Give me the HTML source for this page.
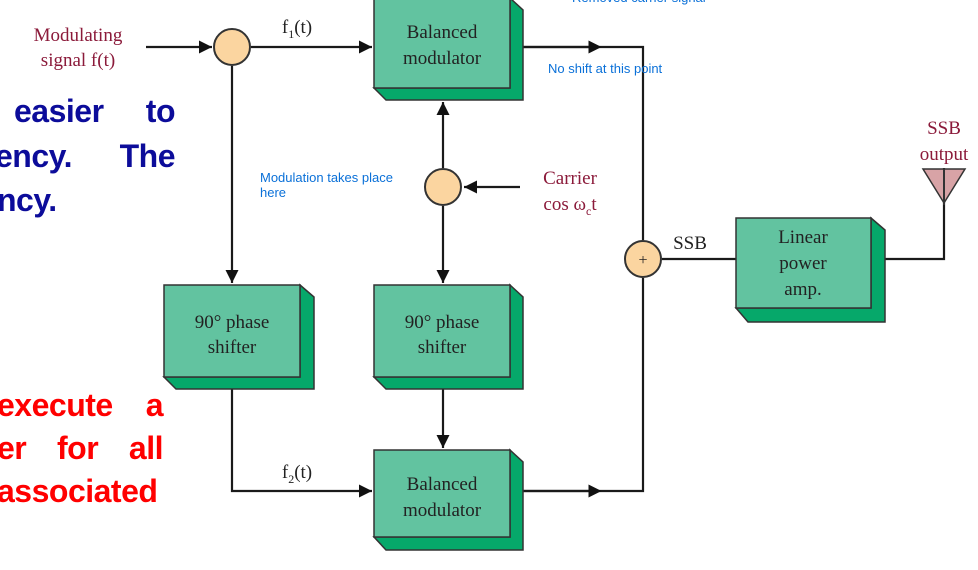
<!DOCTYPE html>
<html><head><style>
body{margin:0;width:978px;height:570px;background:#fff;position:relative;overflow:hidden}
.t{position:absolute;font-family:"Liberation Sans",sans-serif;font-weight:bold;font-size:32px;text-align:justify;text-align-last:justify;white-space:nowrap;letter-spacing:-0.5px}
.b{color:#0c0c9a}.r{color:#ff0000}
</style></head><body>
<svg width="978" height="570" style="position:absolute;left:0;top:0" font-family="Liberation Serif,serif">
<defs><marker id="a" viewBox="0 0 10 10" refX="10" refY="5" markerWidth="14" markerHeight="13" markerUnits="userSpaceOnUse" orient="auto"><path d="M0,0L10,5L0,10z" fill="#111"/></marker>
<marker id="m" viewBox="0 0 10 10" refX="5" refY="5" markerWidth="16" markerHeight="13" markerUnits="userSpaceOnUse" orient="auto"><path d="M0,0L10,5L0,10z" fill="#111"/></marker></defs>
<g stroke="#1a1a1a" stroke-width="2.2" fill="none">
<line x1="146" y1="47" x2="212" y2="47" marker-end="url(#a)"/>
<line x1="251" y1="47" x2="372" y2="47" marker-end="url(#a)"/>
<line x1="232" y1="66" x2="232" y2="283" marker-end="url(#a)"/>
<line x1="443" y1="168" x2="443" y2="102" marker-end="url(#a)"/>
<line x1="520" y1="187" x2="464" y2="187" marker-end="url(#a)"/>
<line x1="443" y1="206" x2="443" y2="283" marker-end="url(#a)"/>
<line x1="443" y1="377" x2="443" y2="448" marker-end="url(#a)"/>
<polyline points="232,377 232,491 372,491" marker-end="url(#a)"/>
<polyline points="512,47 643,47 643,240"/>
<line x1="512" y1="47" x2="595" y2="47" marker-end="url(#m)"/>
<polyline points="512,491 643,491 643,278"/>
<line x1="512" y1="491" x2="595" y2="491" marker-end="url(#m)"/>
<line x1="662" y1="259" x2="736" y2="259"/>
<polyline points="872,259 944,259 944,168"/>
</g>
<g stroke="#333" stroke-width="1.5">
<polygon points="510,-2 523,10 523,100 386,100 374,88 510,88" fill="#06a86a"/>
<rect x="374" y="-2" width="136" height="90" fill="#62c3a0"/>
<polygon points="300,285 314,297 314,389 176,389 164,377 300,377" fill="#06a86a"/>
<rect x="164" y="285" width="136" height="92" fill="#62c3a0"/>
<polygon points="510,285 523,297 523,389 386,389 374,377 510,377" fill="#06a86a"/>
<rect x="374" y="285" width="136" height="92" fill="#62c3a0"/>
<polygon points="510,450 523,462 523,550 386,550 374,537 510,537" fill="#06a86a"/>
<rect x="374" y="450" width="136" height="87" fill="#62c3a0"/>
<polygon points="871,218 885,230 885,322 748,322 736,308 871,308" fill="#06a86a"/>
<rect x="736" y="218" width="135" height="90" fill="#62c3a0"/>
</g>
<g fill="#fbd5a0" stroke="#333" stroke-width="2">
<circle cx="232" cy="47" r="18"/><circle cx="443" cy="187" r="18"/><circle cx="643" cy="259" r="18"/>
</g>
<polygon points="923,169 965,169 944,203" fill="#d8a3a6" stroke="#333" stroke-width="1.5"/>
<line x1="944" y1="169" x2="944" y2="205" stroke="#333" stroke-width="2"/>
<g font-size="19" fill="#222" text-anchor="middle">
<text x="442" y="38">Balanced</text><text x="442" y="64">modulator</text>
<text x="232" y="328">90° phase</text><text x="232" y="353">shifter</text>
<text x="442" y="328">90° phase</text><text x="442" y="353">shifter</text>
<text x="442" y="490">Balanced</text><text x="442" y="516">modulator</text>
<text x="803" y="243">Linear</text><text x="803" y="269">power</text><text x="803" y="295">amp.</text>
<text x="297" y="33">f<tspan font-size="12" dy="5">1</tspan><tspan dy="-5">(t)</tspan></text>
<text x="297" y="478">f<tspan font-size="12" dy="5">2</tspan><tspan dy="-5">(t)</tspan></text>
<text x="690" y="249">SSB</text>
<text x="643" y="265" font-size="16">+</text>
</g>
<g font-size="19" fill="#8b1a3a" text-anchor="middle">
<text x="78" y="41">Modulating</text><text x="78" y="66">signal f(t)</text>
<text x="570" y="184">Carrier</text><text x="570" y="210">cos ω<tspan font-size="12" dy="5">c</tspan><tspan dy="-5">t</tspan></text>
<text x="944" y="134">SSB</text><text x="944" y="160">output</text>
</g>
<g font-family="Liberation Sans,sans-serif" font-size="13" fill="#0a70d8">
<text x="548" y="73">No shift at this point</text>
<text x="260" y="182">Modulation takes place</text><text x="260" y="197">here</text>
<text x="572" y="2">Removed carrier signal</text>
</g>
</svg>
<div class="t b" style="left:14px;top:93px;width:161px">easier to</div>
<div class="t b" style="left:-5px;top:138px;width:180px">ency. The</div>
<div class="t b" style="left:-3px;top:182px">ncy.</div>
<div class="t r" style="left:-3px;top:387px;width:166px">execute a</div>
<div class="t r" style="left:-3px;top:430px;width:166px">er for all</div>
<div class="t r" style="left:-3px;top:473px;width:166px">associated</div>
</body></html>
